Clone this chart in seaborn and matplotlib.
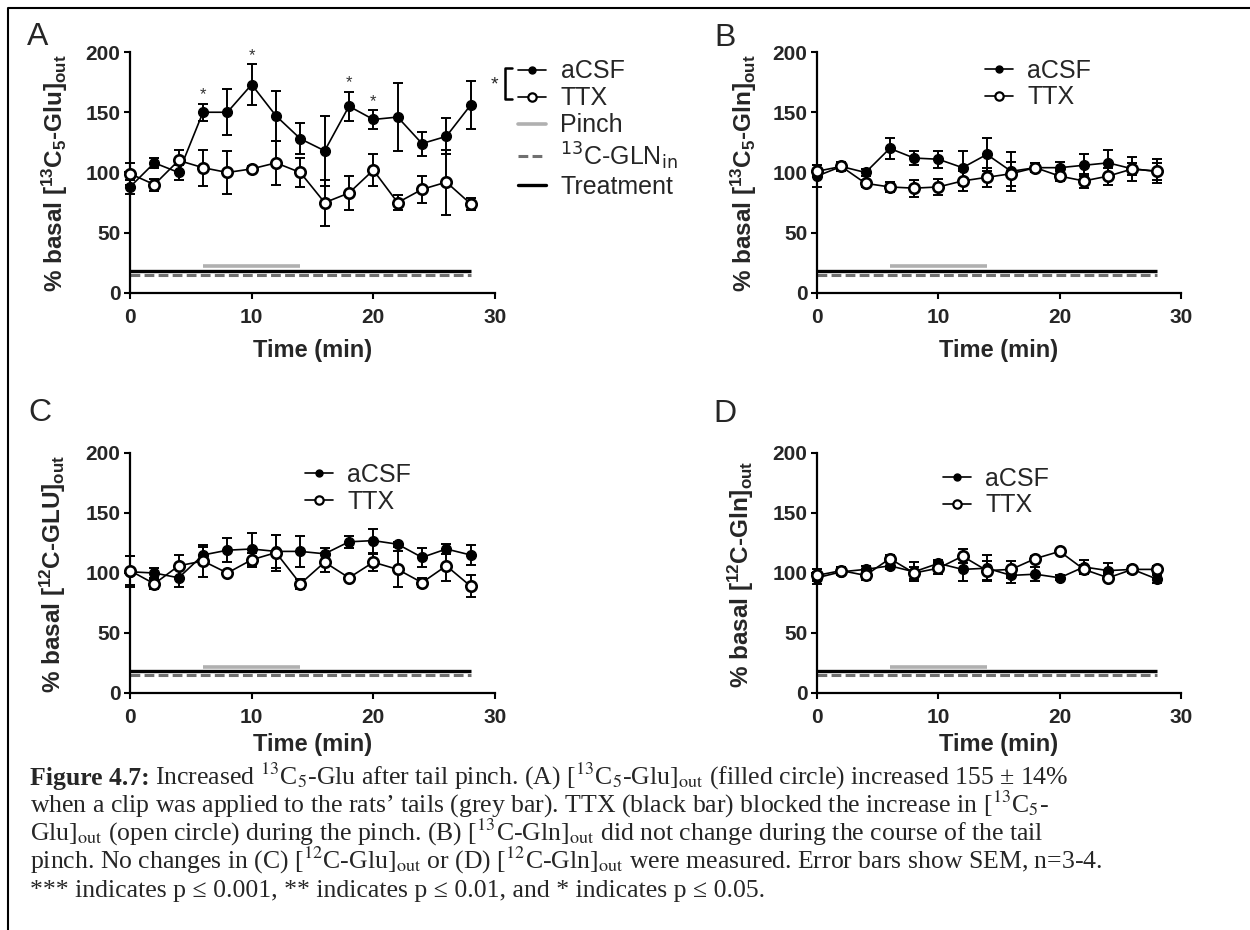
import matplotlib
matplotlib.use("Agg")
import matplotlib.pyplot as plt
import seaborn as sns
from matplotlib.lines import Line2D

# ---- data (mean and SEM, % basal) ----
time_min = [0, 2, 4, 6, 8, 10, 12, 14, 16, 18, 20, 22, 24, 26, 28]

a_acsf = [88, 108, 100, 150, 150, 173, 147, 128, 118, 155, 144, 146, 124, 130, 156]
a_acsf_sem = [6, 4, 6, 7, 19, 17, 21, 13, 29, 12, 8, 28, 10, 15, 20]
a_ttx = [99, 90, 110, 104, 100, 103, 108, 100, 75, 83, 102, 75, 86, 92, 74]
a_ttx_sem = [9, 5, 9, 15, 18, 2, 18, 12, 19, 14, 13, 6, 11, 27, 5]
a_star_times = [6, 10, 18, 20]

b_acsf = [97, 105, 100, 120, 112, 111, 104, 115, 101, 104, 104, 106, 108, 103, 101]
b_acsf_sem = [9, 3, 3, 9, 6, 7, 14, 14, 16, 4, 5, 9, 11, 10, 10]
b_ttx = [101, 105, 91, 88, 87, 88, 93, 96, 99, 104, 97, 93, 97, 103, 101]
b_ttx_sem = [5, 4, 3, 4, 7, 7, 8, 8, 10, 4, 4, 6, 7, 5, 7]

c_acsf = [101, 100, 96, 115, 119, 120, 118, 118, 116, 126, 127, 124, 113, 120, 115]
c_acsf_sem = [13, 4, 8, 7, 10, 13, 14, 13, 5, 5, 10, 2, 8, 4, 8]
c_ttx = [102, 91, 106, 110, 100, 111, 117, 91, 109, 96, 109, 103, 92, 106, 89]
c_ttx_sem = [12, 4, 9, 13, 2, 6, 15, 4, 8, 2, 7, 15, 4, 13, 9]

d_acsf = [96, 101, 103, 106, 101, 108, 103, 104, 98, 99, 96, 105, 102, 103, 95]
d_acsf_sem = [5, 3, 3, 3, 8, 3, 10, 11, 6, 6, 2, 6, 6, 3, 3]
d_ttx = [98, 102, 98, 112, 100, 104, 114, 102, 103, 112, 118, 103, 96, 103, 103]
d_ttx_sem = [5, 3, 4, 3, 5, 5, 6, 8, 7, 2, 2, 4, 3, 2, 3]

# protocol bars: (start, end, level)
pinch_bar = (6, 14, 22)
treatment_bar = (0, 28, 18)
gln_bar = (0, 28, 15)

ylabels = [r'% basal [$^{\mathbf{13}}$C$_{\mathbf{5}}$-Glu]$_{\mathbf{out}}$',
           r'% basal [$^{\mathbf{13}}$C$_{\mathbf{5}}$-Gln]$_{\mathbf{out}}$',
           r'% basal [$^{\mathbf{12}}$C-GLU]$_{\mathbf{out}}$',
           r'% basal [$^{\mathbf{12}}$C-Gln]$_{\mathbf{out}}$']

caption = [
    r'Increased $^{13}$C$_5$-Glu after tail pinch. (A) [$^{13}$C$_5$-Glu]$_{\mathrm{out}}$ (filled circle) increased 155 ± 14%',
    r'when a clip was applied to the rats’ tails (grey bar). TTX (black bar) blocked the increase in [$^{13}$C$_5$-',
    r'Glu]$_{\mathrm{out}}$ (open circle) during the pinch. (B) [$^{13}$C-Gln]$_{\mathrm{out}}$ did not change during the course of the tail',
    r'pinch. No changes in (C) [$^{12}$C-Glu]$_{\mathrm{out}}$ or (D) [$^{12}$C-Gln]$_{\mathrm{out}}$ were measured. Error bars show SEM, n=3-4.',
    r'*** indicates p ≤ 0.001, ** indicates p ≤ 0.01, and * indicates p ≤ 0.05.',
]

sns.set_style("ticks")
plt.rcParams['font.family'] = ['Liberation Sans', 'DejaVu Sans']
plt.rcParams['mathtext.rm'] = 'Liberation Sans'
plt.rcParams['mathtext.bf'] = 'Liberation Sans:bold'
plt.rcParams['mathtext.it'] = 'Liberation Sans:italic'

W, H = 1250, 930
fig = plt.figure(figsize=(12.5, 9.3), dpi=100)


def fx(x):
    return x / W


def fy(y):
    return 1 - y / H


# left, top, right, bottom in pixels
boxes = [(130, 52, 495, 293), (817, 52, 1181, 293),
         (130, 453, 495, 693), (817, 453, 1181, 693)]
letters = ['A', 'B', 'C', 'D']
letter_pos = [(38, 37), (725, 38), (40, 413), (725, 414)]
ylab_x = [55, 744, 53, 741]
xlab_gap = [57, 57, 52, 52]
series = [(a_acsf, a_acsf_sem, a_ttx, a_ttx_sem),
          (b_acsf, b_acsf_sem, b_ttx, b_ttx_sem),
          (c_acsf, c_acsf_sem, c_ttx, c_ttx_sem),
          (d_acsf, d_acsf_sem, d_ttx, d_ttx_sem)]

acsf_handle = Line2D([], [], color='black', lw=1.2, marker='o', ms=5,
                     mfc='black', mec='black')
ttx_handle = Line2D([], [], color='black', lw=1.2, marker='o', ms=6,
                    mfc='white', mec='black', mew=1.6)
pinch_handle = Line2D([], [], color='#b0b0b0', lw=2.6)
gln_handle = Line2D([], [], color='#707070', lw=2.2, dashes=(3.2, 1.4))
treat_handle = Line2D([], [], color='black', lw=2.4)

axes = []
for i, (l, t, r, b) in enumerate(boxes):
    ax = fig.add_axes([fx(l), fy(b), (r - l) / W, (b - t) / H])
    axes.append(ax)
    acsf, acsf_sem, ttx, ttx_sem = series[i]

    # protocol bars
    ax.hlines(pinch_bar[2], pinch_bar[0], pinch_bar[1], color='#b0b0b0', lw=2.6, zorder=2)
    ax.hlines(treatment_bar[2], treatment_bar[0], treatment_bar[1], color='black', lw=2.4, zorder=2)
    ax.hlines(gln_bar[2], gln_bar[0], gln_bar[1], color='#707070', lw=2.2,
              linestyles=[(0, (3.2, 1.4))], zorder=2)

    ax.errorbar(time_min, acsf, yerr=acsf_sem, fmt='none', ecolor='black',
                elinewidth=1.4, capsize=3.4, capthick=1.4, zorder=3, clip_on=False)
    sns.lineplot(x=time_min, y=acsf, ax=ax, color='black', lw=1.2, marker='o',
                 markersize=7, markerfacecolor='black', markeredgecolor='black',
                 markeredgewidth=1, clip_on=False, zorder=4)
    ax.errorbar(time_min, ttx, yerr=ttx_sem, fmt='none', ecolor='black',
                elinewidth=1.4, capsize=3.4, capthick=1.4, zorder=5, clip_on=False)
    sns.lineplot(x=time_min, y=ttx, ax=ax, color='black', lw=1.2, marker='o',
                 markersize=7.5, markerfacecolor='white', markeredgecolor='black',
                 markeredgewidth=1.9, clip_on=False, zorder=6)

    ax.set_xlim(0, 30)
    ax.set_ylim(0, 200)
    ax.set_xticks([0, 10, 20, 30])
    ax.set_yticks([0, 50, 100, 150, 200])
    ax.set_xlabel('')
    ax.set_ylabel('')
    sns.despine(ax=ax)
    for s in ['left', 'bottom']:
        ax.spines[s].set_linewidth(1.6)
        ax.spines[s].set_color('black')
    ax.tick_params(axis='both', direction='out', length=4.5, width=1.5,
                   color='black', labelsize=15)
    ax.tick_params(axis='x', pad=6)
    ax.tick_params(axis='y', pad=2.5)
    for lab in ax.get_xticklabels() + ax.get_yticklabels():
        lab.set_fontweight('bold')

    fig.text(fx(ylab_x[i]), fy((t + b) / 2 + 1), ylabels[i], rotation=90,
             ha='center', va='center', fontsize=17.5, fontweight='bold',
             math_fontfamily='custom')
    fig.text(fx((l + r) / 2), fy(b + xlab_gap[i]), 'Time (min)', ha='center',
             va='center', fontsize=17, fontweight='bold')
    fig.text(fx(letter_pos[i][0]), fy(letter_pos[i][1]), letters[i], ha='center',
             va='center', fontsize=23)

# significance stars in panel A
for tm in a_star_times:
    k = time_min.index(tm)
    axes[0].text(tm, a_acsf[k] + a_acsf_sem[k] + 1, '*', ha='center', va='bottom',
                 fontsize=12, color='#333333')

# legends
leg_kw = dict(frameon=False, fontsize=18, handlelength=1.1, handletextpad=0.6,
              labelspacing=0.12, borderpad=0, borderaxespad=0, loc='center left',
              bbox_transform=fig.transFigure)
axes[0].legend([acsf_handle, ttx_handle, pinch_handle, gln_handle, treat_handle],
               ['aCSF', 'TTX', 'Pinch', r'$^{13}$C-GLN$_{\mathrm{in}}$', 'Treatment'],
               bbox_to_anchor=(fx(518), fy(129)), **leg_kw)
axes[1].legend([acsf_handle, ttx_handle], ['aCSF', 'TTX'],
               bbox_to_anchor=(fx(985), fy(84)), **leg_kw)
axes[2].legend([acsf_handle, ttx_handle], ['aCSF', 'TTX'],
               bbox_to_anchor=(fx(305), fy(488)), **leg_kw)
axes[3].legend([acsf_handle, ttx_handle], ['aCSF', 'TTX'],
               bbox_to_anchor=(fx(943), fy(492)), **leg_kw)

# bracket with star joining the aCSF / TTX legend entries
fig.add_artist(Line2D([fx(512), fx(505), fx(505), fx(512)],
                      [fy(68), fy(68), fy(99), fy(99)],
                      transform=fig.transFigure, color='black', lw=1.8))
fig.text(fx(494), fy(85), '*', ha='center', va='center', fontsize=14)

# figure border (top and left)
fig.add_artist(Line2D([fx(8), fx(8), 1], [0, fy(8), fy(8)],
                      transform=fig.transFigure, color='black', lw=1.5))

# caption
serif = ['Liberation Serif', 'DejaVu Serif']
cap_size = 18.5
cap_base = [785, 813, 841, 869, 897]
renderer = fig.canvas.get_renderer()
head = fig.text(fx(30), fy(cap_base[0]), 'Figure 4.7:', fontsize=cap_size,
                fontweight='bold', family=serif, va='baseline')
hb = head.get_window_extent(renderer)
fig.text(hb.x1 / W + fx(5), fy(cap_base[0]), caption[0], fontsize=cap_size,
         family=serif, va='baseline', math_fontfamily='stix')
for line, yb in zip(caption[1:], cap_base[1:]):
    fig.text(fx(30), fy(yb), line, fontsize=cap_size, family=serif, va='baseline',
             math_fontfamily='stix')

fig.savefig('out.png', dpi=100)
